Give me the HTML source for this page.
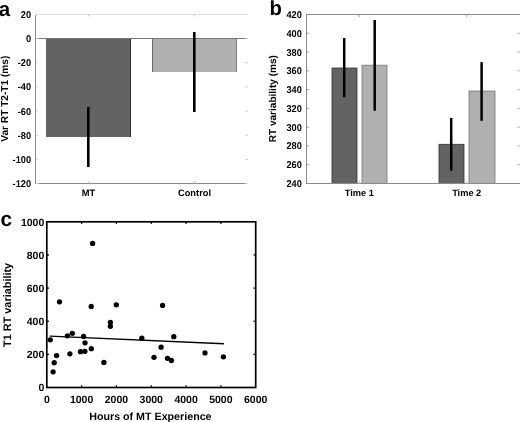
<!DOCTYPE html><html><head><meta charset="utf-8"><style>html,body{margin:0;padding:0;background:#fff;}svg{display:block;filter:grayscale(1);}text{font-family:"Liberation Sans", sans-serif;font-weight:bold;fill:#000;text-rendering:geometricPrecision;}</style></head><body>
<svg width="520" height="422" viewBox="0 0 520 422">
<rect x="0" y="0" width="520" height="422" fill="#fff"/>
<line x1="36" y1="14.5" x2="248" y2="14.5" stroke="#dcdcdc" stroke-width="1"/>
<rect x="46" y="38.5" width="85" height="98.5" fill="#636363"/>
<line x1="130.5" y1="38.5" x2="130.5" y2="137" stroke="#333" stroke-width="1"/>
<rect x="152" y="38.5" width="85" height="33.5" fill="#b0b0b0"/>
<line x1="152.5" y1="38.5" x2="152.5" y2="72" stroke="#6a6a6a" stroke-width="1"/>
<line x1="236.5" y1="38.5" x2="236.5" y2="72" stroke="#7a7a7a" stroke-width="1"/>
<line x1="46" y1="71.5" x2="237" y2="71.5" stroke="#9a9a9a" stroke-width="0"/>
<line x1="35.5" y1="15" x2="35.5" y2="184.0" stroke="#8a8a8a" stroke-width="1"/>
<line x1="35" y1="183.5" x2="248" y2="183.5" stroke="#8a8a8a" stroke-width="1"/>
<line x1="35" y1="38.5" x2="248" y2="38.5" stroke="#777" stroke-width="1"/>
<line x1="88.5" y1="14.5" x2="88.5" y2="16.5" stroke="#ccc" stroke-width="1"/>
<line x1="88.5" y1="183.5" x2="88.5" y2="181.5" stroke="#bbb" stroke-width="1"/>
<line x1="194.5" y1="14.5" x2="194.5" y2="16.5" stroke="#ccc" stroke-width="1"/>
<line x1="194.5" y1="183.5" x2="194.5" y2="181.5" stroke="#bbb" stroke-width="1"/>
<line x1="36" y1="38.64" x2="38.5" y2="38.64" stroke="#dadada" stroke-width="1"/>
<line x1="245" y1="38.64" x2="248" y2="38.64" stroke="#d0d0d0" stroke-width="1"/>
<line x1="36" y1="62.79" x2="38.5" y2="62.79" stroke="#dadada" stroke-width="1"/>
<line x1="245" y1="62.79" x2="248" y2="62.79" stroke="#d0d0d0" stroke-width="1"/>
<line x1="36" y1="86.93" x2="38.5" y2="86.93" stroke="#dadada" stroke-width="1"/>
<line x1="245" y1="86.93" x2="248" y2="86.93" stroke="#d0d0d0" stroke-width="1"/>
<line x1="36" y1="111.07" x2="38.5" y2="111.07" stroke="#dadada" stroke-width="1"/>
<line x1="245" y1="111.07" x2="248" y2="111.07" stroke="#d0d0d0" stroke-width="1"/>
<line x1="36" y1="135.21" x2="38.5" y2="135.21" stroke="#dadada" stroke-width="1"/>
<line x1="245" y1="135.21" x2="248" y2="135.21" stroke="#d0d0d0" stroke-width="1"/>
<line x1="36" y1="159.36" x2="38.5" y2="159.36" stroke="#dadada" stroke-width="1"/>
<line x1="245" y1="159.36" x2="248" y2="159.36" stroke="#d0d0d0" stroke-width="1"/>
<line x1="36" y1="183.50" x2="38.5" y2="183.50" stroke="#dadada" stroke-width="1"/>
<line x1="245" y1="183.50" x2="248" y2="183.50" stroke="#d0d0d0" stroke-width="1"/>
<line x1="88.3" y1="107" x2="88.3" y2="167" stroke="#000" stroke-width="2.6"/>
<line x1="194.3" y1="32" x2="194.3" y2="112" stroke="#000" stroke-width="2.6"/>
<text transform="translate(31,18.05) scale(0.93,1)" font-size="9.9" text-anchor="end">20</text>
<text transform="translate(31,42.19) scale(0.93,1)" font-size="9.9" text-anchor="end">0</text>
<text transform="translate(31,66.34) scale(0.93,1)" font-size="9.9" text-anchor="end">-20</text>
<text transform="translate(31,90.48) scale(0.93,1)" font-size="9.9" text-anchor="end">-40</text>
<text transform="translate(31,114.62) scale(0.93,1)" font-size="9.9" text-anchor="end">-60</text>
<text transform="translate(31,138.76) scale(0.93,1)" font-size="9.9" text-anchor="end">-80</text>
<text transform="translate(31,162.91) scale(0.93,1)" font-size="9.9" text-anchor="end">-100</text>
<text transform="translate(31,187.05) scale(0.93,1)" font-size="9.9" text-anchor="end">-120</text>
<text x="88.5" y="195.6" font-size="9.3" text-anchor="middle">MT</text>
<text x="194.5" y="195.6" font-size="9.3" text-anchor="middle">Control</text>
<text transform="translate(7.6,98.7) rotate(-90)" font-size="10.15" text-anchor="middle">Var RT T2-T1 (ms)</text>
<text x="-1.3" y="15.7" font-size="20.5">a</text>
<line x1="306" y1="14.5" x2="521" y2="14.5" stroke="#8a8a8a" stroke-width="1"/>
<rect x="332" y="68.0" width="25" height="115.5" fill="#636363" stroke="#333" stroke-width="0.8"/>
<rect x="362" y="65.2" width="25" height="118.3" fill="#b0b0b0" stroke="#777" stroke-width="0.8"/>
<rect x="439" y="144.3" width="25" height="39.19999999999999" fill="#636363" stroke="#333" stroke-width="0.8"/>
<rect x="469" y="91.0" width="26" height="92.5" fill="#b0b0b0" stroke="#777" stroke-width="0.8"/>
<line x1="306.5" y1="14.5" x2="306.5" y2="184.0" stroke="#8a8a8a" stroke-width="1"/>
<line x1="306" y1="183.5" x2="521" y2="183.5" stroke="#8a8a8a" stroke-width="1"/>
<text transform="translate(301.8,18.05) scale(0.93,1)" font-size="9.9" text-anchor="end">420</text>
<line x1="307" y1="33.27777777777778" x2="309.5" y2="33.27777777777778" stroke="#a8a8a8" stroke-width="1"/>
<line x1="517" y1="33.27777777777778" x2="520" y2="33.27777777777778" stroke="#b8b8b8" stroke-width="1"/>
<text transform="translate(301.8,36.83) scale(0.93,1)" font-size="9.9" text-anchor="end">400</text>
<line x1="307" y1="52.05555555555556" x2="309.5" y2="52.05555555555556" stroke="#a8a8a8" stroke-width="1"/>
<line x1="517" y1="52.05555555555556" x2="520" y2="52.05555555555556" stroke="#b8b8b8" stroke-width="1"/>
<text transform="translate(301.8,55.61) scale(0.93,1)" font-size="9.9" text-anchor="end">380</text>
<line x1="307" y1="70.83333333333334" x2="309.5" y2="70.83333333333334" stroke="#a8a8a8" stroke-width="1"/>
<line x1="517" y1="70.83333333333334" x2="520" y2="70.83333333333334" stroke="#b8b8b8" stroke-width="1"/>
<text transform="translate(301.8,74.38) scale(0.93,1)" font-size="9.9" text-anchor="end">360</text>
<line x1="307" y1="89.61111111111111" x2="309.5" y2="89.61111111111111" stroke="#a8a8a8" stroke-width="1"/>
<line x1="517" y1="89.61111111111111" x2="520" y2="89.61111111111111" stroke="#b8b8b8" stroke-width="1"/>
<text transform="translate(301.8,93.16) scale(0.93,1)" font-size="9.9" text-anchor="end">340</text>
<line x1="307" y1="108.38888888888889" x2="309.5" y2="108.38888888888889" stroke="#a8a8a8" stroke-width="1"/>
<line x1="517" y1="108.38888888888889" x2="520" y2="108.38888888888889" stroke="#b8b8b8" stroke-width="1"/>
<text transform="translate(301.8,111.94) scale(0.93,1)" font-size="9.9" text-anchor="end">320</text>
<line x1="307" y1="127.16666666666667" x2="309.5" y2="127.16666666666667" stroke="#a8a8a8" stroke-width="1"/>
<line x1="517" y1="127.16666666666667" x2="520" y2="127.16666666666667" stroke="#b8b8b8" stroke-width="1"/>
<text transform="translate(301.8,130.72) scale(0.93,1)" font-size="9.9" text-anchor="end">300</text>
<line x1="307" y1="145.94444444444446" x2="309.5" y2="145.94444444444446" stroke="#a8a8a8" stroke-width="1"/>
<line x1="517" y1="145.94444444444446" x2="520" y2="145.94444444444446" stroke="#b8b8b8" stroke-width="1"/>
<text transform="translate(301.8,149.49) scale(0.93,1)" font-size="9.9" text-anchor="end">280</text>
<line x1="307" y1="164.72222222222223" x2="309.5" y2="164.72222222222223" stroke="#a8a8a8" stroke-width="1"/>
<line x1="517" y1="164.72222222222223" x2="520" y2="164.72222222222223" stroke="#b8b8b8" stroke-width="1"/>
<text transform="translate(301.8,168.27) scale(0.93,1)" font-size="9.9" text-anchor="end">260</text>
<text transform="translate(301.8,187.05) scale(0.93,1)" font-size="9.9" text-anchor="end">240</text>
<line x1="359.5" y1="14.5" x2="359.5" y2="17.0" stroke="#aaa" stroke-width="1"/>
<line x1="359.5" y1="183.5" x2="359.5" y2="180.5" stroke="#ccc" stroke-width="1"/>
<line x1="466.7" y1="14.5" x2="466.7" y2="17.0" stroke="#aaa" stroke-width="1"/>
<line x1="466.7" y1="183.5" x2="466.7" y2="180.5" stroke="#ccc" stroke-width="1"/>
<line x1="344.2" y1="38" x2="344.2" y2="97.2" stroke="#000" stroke-width="2.5"/>
<line x1="374.7" y1="20" x2="374.7" y2="110.7" stroke="#000" stroke-width="2.5"/>
<line x1="451.2" y1="118" x2="451.2" y2="170.8" stroke="#000" stroke-width="2.5"/>
<line x1="481.6" y1="62.1" x2="481.6" y2="120.8" stroke="#000" stroke-width="2.5"/>
<text x="359.3" y="195.6" font-size="9.25" text-anchor="middle">Time 1</text>
<text x="466.7" y="195.6" font-size="9.25" text-anchor="middle">Time 2</text>
<text transform="translate(276.4,98.7) rotate(-90)" font-size="10.05" text-anchor="middle">RT variability (ms)</text>
<text x="269.6" y="15" font-size="20.3">b</text>
<rect x="46.8" y="221.8" width="208.89999999999998" height="165.7" fill="none" stroke="#000" stroke-width="1.7"/>
<line x1="81.62" y1="221.8" x2="81.62" y2="224.0" stroke="#000" stroke-width="1.2"/>
<line x1="81.62" y1="387.5" x2="81.62" y2="385.3" stroke="#000" stroke-width="1.2"/>
<line x1="116.43" y1="221.8" x2="116.43" y2="224.0" stroke="#000" stroke-width="1.2"/>
<line x1="116.43" y1="387.5" x2="116.43" y2="385.3" stroke="#000" stroke-width="1.2"/>
<line x1="151.25" y1="221.8" x2="151.25" y2="224.0" stroke="#000" stroke-width="1.2"/>
<line x1="151.25" y1="387.5" x2="151.25" y2="385.3" stroke="#000" stroke-width="1.2"/>
<line x1="186.07" y1="221.8" x2="186.07" y2="224.0" stroke="#000" stroke-width="1.2"/>
<line x1="186.07" y1="387.5" x2="186.07" y2="385.3" stroke="#000" stroke-width="1.2"/>
<line x1="220.88" y1="221.8" x2="220.88" y2="224.0" stroke="#000" stroke-width="1.2"/>
<line x1="220.88" y1="387.5" x2="220.88" y2="385.3" stroke="#000" stroke-width="1.2"/>
<line x1="46.8" y1="354.36" x2="49.0" y2="354.36" stroke="#000" stroke-width="1.2"/>
<line x1="255.7" y1="354.36" x2="253.5" y2="354.36" stroke="#000" stroke-width="1.2"/>
<line x1="46.8" y1="321.22" x2="49.0" y2="321.22" stroke="#000" stroke-width="1.2"/>
<line x1="255.7" y1="321.22" x2="253.5" y2="321.22" stroke="#000" stroke-width="1.2"/>
<line x1="46.8" y1="288.08" x2="49.0" y2="288.08" stroke="#000" stroke-width="1.2"/>
<line x1="255.7" y1="288.08" x2="253.5" y2="288.08" stroke="#000" stroke-width="1.2"/>
<line x1="46.8" y1="254.94" x2="49.0" y2="254.94" stroke="#000" stroke-width="1.2"/>
<line x1="255.7" y1="254.94" x2="253.5" y2="254.94" stroke="#000" stroke-width="1.2"/>
<text x="44.3" y="391.20" font-size="10.5" text-anchor="end">0</text>
<text x="44.3" y="358.06" font-size="10.5" text-anchor="end">200</text>
<text x="44.3" y="324.92" font-size="10.5" text-anchor="end">400</text>
<text x="44.3" y="291.78" font-size="10.5" text-anchor="end">600</text>
<text x="44.3" y="258.64" font-size="10.5" text-anchor="end">800</text>
<text x="44.3" y="225.80" font-size="10.5" text-anchor="end">1000</text>
<text x="46.80" y="402.6" font-size="10.5" text-anchor="middle">0</text>
<text x="81.62" y="402.6" font-size="10.5" text-anchor="middle">1000</text>
<text x="116.43" y="402.6" font-size="10.5" text-anchor="middle">2000</text>
<text x="151.25" y="402.6" font-size="10.5" text-anchor="middle">3000</text>
<text x="186.07" y="402.6" font-size="10.5" text-anchor="middle">4000</text>
<text x="220.88" y="402.6" font-size="10.5" text-anchor="middle">5000</text>
<text x="255.70" y="402.6" font-size="10.5" text-anchor="middle">6000</text>
<line x1="49.7" y1="336.1" x2="223.9" y2="343.7" stroke="#000" stroke-width="1.4"/>
<circle cx="50.3" cy="339.8" r="2.65" fill="#000"/>
<circle cx="53.1" cy="371.8" r="2.65" fill="#000"/>
<circle cx="54.2" cy="362.7" r="2.65" fill="#000"/>
<circle cx="56.6" cy="355.6" r="2.65" fill="#000"/>
<circle cx="59.5" cy="301.8" r="2.65" fill="#000"/>
<circle cx="67.4" cy="335.8" r="2.65" fill="#000"/>
<circle cx="69.9" cy="353.8" r="2.65" fill="#000"/>
<circle cx="72.3" cy="333.3" r="2.65" fill="#000"/>
<circle cx="80.5" cy="351.7" r="2.65" fill="#000"/>
<circle cx="83.6" cy="336.4" r="2.65" fill="#000"/>
<circle cx="84.9" cy="351.3" r="2.65" fill="#000"/>
<circle cx="85.0" cy="342.8" r="2.65" fill="#000"/>
<circle cx="91.3" cy="348.7" r="2.65" fill="#000"/>
<circle cx="91.2" cy="306.4" r="2.65" fill="#000"/>
<circle cx="92.6" cy="243.4" r="2.65" fill="#000"/>
<circle cx="103.9" cy="362.4" r="2.65" fill="#000"/>
<circle cx="110.4" cy="322.5" r="2.65" fill="#000"/>
<circle cx="110.4" cy="326.3" r="2.65" fill="#000"/>
<circle cx="116.3" cy="304.8" r="2.65" fill="#000"/>
<circle cx="141.8" cy="338.2" r="2.65" fill="#000"/>
<circle cx="154.0" cy="357.3" r="2.65" fill="#000"/>
<circle cx="161.1" cy="347.2" r="2.65" fill="#000"/>
<circle cx="162.6" cy="305.4" r="2.65" fill="#000"/>
<circle cx="167.5" cy="358.3" r="2.65" fill="#000"/>
<circle cx="171.4" cy="360.5" r="2.65" fill="#000"/>
<circle cx="173.8" cy="336.7" r="2.65" fill="#000"/>
<circle cx="205.0" cy="352.9" r="2.65" fill="#000"/>
<circle cx="223.4" cy="356.8" r="2.65" fill="#000"/>
<text x="150.4" y="419.6" font-size="10.7" text-anchor="middle">Hours of MT Experience</text>
<text transform="translate(11.1,304.9) rotate(-90)" font-size="10.9" text-anchor="middle">T1 RT variability</text>
<text x="0.5" y="225.7" font-size="20.8">c</text>
</svg></body></html>
